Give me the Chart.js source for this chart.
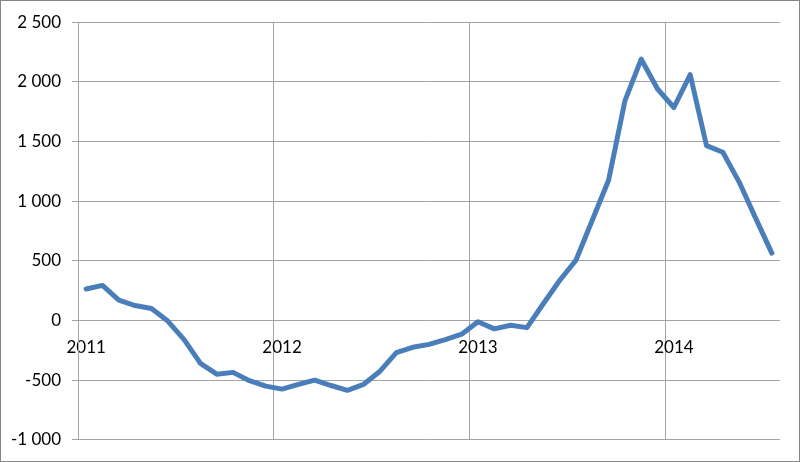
<!DOCTYPE html>
<html>
<head>
<meta charset="utf-8">
<script src="https://cdn.jsdelivr.net/npm/chart.js@4/dist/chart.umd.min.js"></script>
<style>
  html, body { margin: 0; padding: 0; background: #fff; }
  #wrap { width: 800px; height: 462px; box-sizing: border-box; border: 1px solid #868686; position: relative; }
</style>
</head>
<body>
<div id="wrap"><canvas id="chart"></canvas></div>
<script>
/* données mensuelles, janv. 2011 → juil. 2014 */
const years = ['2011', '2012', '2013', '2014'];
const monthsPerYear = 12;
const values2011 = [264, 294, 170, 125, 100, -5, -160, -360, -450, -435, -505, -550];
const values2012 = [-575, -535, -500, -545, -585, -535, -425, -270, -225, -200, -160, -115];
const values2013 = [-10, -70, -40, -60, 140, 335, 505, 840, 1175, 1840, 2190, 1940];
const values2014 = [1785, 2060, 1465, 1410, 1160, 860, 565];
const yTicks = [-1000, -500, 0, 500, 1000, 1500, 2000, 2500];

const values = [...values2011, ...values2012, ...values2013, ...values2014];
// une catégorie par mois ; libellé de l'année sur janvier seulement
const labels = values.map((_, i) => i % monthsPerYear === 0 ? years[i / monthsPerYear] : '');

const fmt = v => {
  const s = Math.abs(v).toString().replace(/\B(?=(\d{3})+(?!\d))/g, ' ');
  return (v < 0 ? '-' : '') + s;
};

const GRID = '#a3a3a3';
const FONT = { family: 'Lato, "Open Sans", sans-serif', size: 17 };

new Chart(document.getElementById('chart'), {
  type: 'line',
  data: {
    labels,
    datasets: [{
      data: values,
      borderColor: '#4a7ebb',
      borderWidth: 5,
      pointRadius: 0,
      tension: 0,
      borderCapStyle: 'round',
      borderJoinStyle: 'round'
    }]
  },
  options: {
    responsive: true,
    maintainAspectRatio: false,
    animation: false,
    layout: { padding: { top: 20, right: 19, bottom: 20, left: 0 } },
    plugins: { legend: { display: false }, tooltip: { enabled: false } },
    scales: {
      x: {
        position: { y: 0 },
        offset: true,
        grid: {
          offset: true,
          drawTicks: false,
          color: ctx => (ctx.index % monthsPerYear === 0 ? GRID : 'rgba(0,0,0,0)')
        },
        border: { display: false },
        ticks: {
          autoSkip: false,
          maxRotation: 0,
          padding: 17,
          color: '#000',
          font: FONT,
          callback: (v, i) => labels[i]
        }
      },
      y: {
        min: yTicks[0],
        max: yTicks[yTicks.length - 1],
        afterBuildTicks: s => { s.ticks = yTicks.map(v => ({ value: v })); },
        afterFit: s => { s.width = 77; },
        grid: { color: GRID, tickLength: 6 },
        border: { display: true, color: GRID },
        ticks: {
          padding: 11,
          color: '#000',
          font: FONT,
          callback: v => fmt(v)
        }
      }
    }
  }
});
</script>
</body>
</html>
